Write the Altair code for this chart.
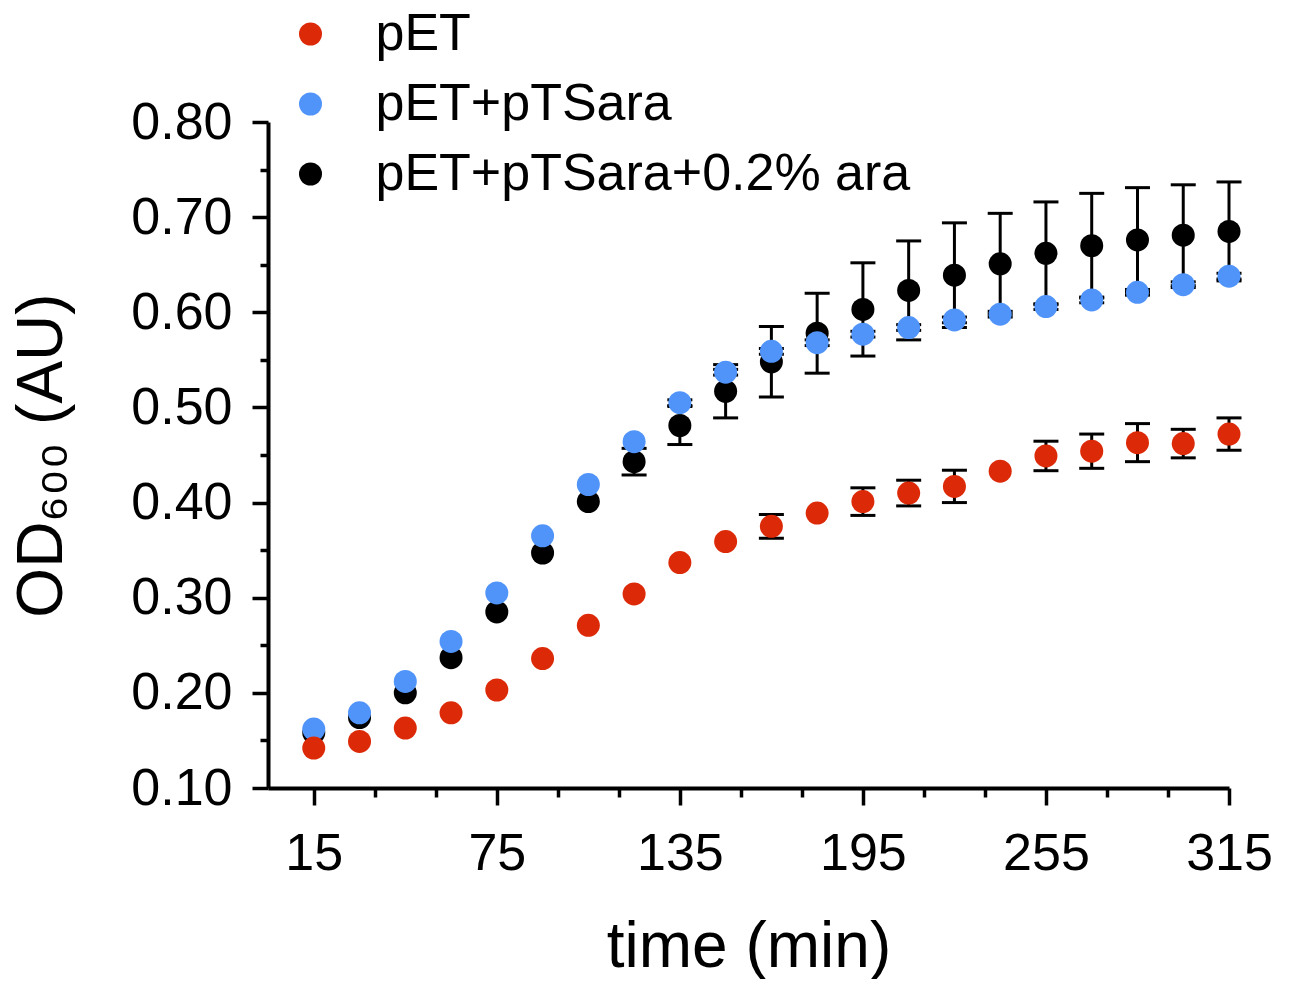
import altair as alt
import pandas as pd

# ---- data ----
time_min = [15, 30, 45, 60, 75, 90, 105, 120, 135, 150, 165, 180, 195, 210, 225, 240, 255, 270, 285, 300, 315]

series_names = ["pET", "pET+pTSara", "pET+pTSara+0.2% ara"]
series_colors = ["#dc2a08", "#5094fa", "#000000"]

od_pet = [0.142, 0.149, 0.163, 0.179, 0.203, 0.236, 0.271, 0.304, 0.337, 0.359, 0.375,
          0.389, 0.401, 0.410, 0.417, 0.433, 0.449, 0.454, 0.463, 0.462, 0.472]
# None = error bar too small to be seen behind the dot
err_pet = [None, None, None, None, None, None, None, None, None, None, 0.0125,
           None, 0.0145, 0.0135, 0.017, None, 0.0155, 0.018, 0.020, 0.015, 0.017]

od_pts = [0.162, 0.179, 0.212, 0.254, 0.305, 0.365, 0.419, 0.464, 0.505, 0.537, 0.559,
          0.568, 0.577, 0.584, 0.592, 0.598, 0.606, 0.613, 0.621, 0.629, 0.638]
err_pts = [None, None, None, None, None, None, None, None, 0.003, 0.003, 0.003,
           0.003, 0.003, 0.003, 0.003, 0.003, 0.003, 0.003, 0.003, 0.003, 0.003]

od_ara = [0.158, 0.174, 0.200, 0.237, 0.285, 0.347, 0.401, 0.443, 0.481, 0.517, 0.548,
          0.578, 0.603, 0.623, 0.639, 0.651, 0.662, 0.670, 0.676, 0.681, 0.685]
err_ara = [None, None, None, None, None, None, None, 0.014, 0.020, 0.028, 0.037,
           0.042, 0.049, 0.052, 0.055, 0.053, 0.054, 0.055, 0.055, 0.053, 0.052]

x_tick_values = [15, 35, 55, 75, 95, 115, 135, 155, 175, 195, 215, 235, 255, 275, 295, 315]
y_tick_values = [0.10, 0.15, 0.20, 0.25, 0.30, 0.35, 0.40, 0.45, 0.50, 0.55, 0.60,
                 0.65, 0.70, 0.75, 0.80]

# draw order: black, blue, red (red/blue on top)
rows = []
for name, od, err in [(series_names[2], od_ara, err_ara),
                      (series_names[1], od_pts, err_pts),
                      (series_names[0], od_pet, err_pet)]:
    for t, v, e in zip(time_min, od, err):
        rows.append({"time": t, "od": v, "err": e, "series": name})
df = pd.DataFrame(rows)

FONT = "Liberation Sans, Arial, Helvetica, sans-serif"

x_axis = alt.Axis(
    values=x_tick_values,
    labelExpr="(datum.value - 15) % 60 === 0 ? datum.label : ''",
    tickSize={"condition": {"test": "(datum.value - 15) % 60 === 0", "value": 17}, "value": 9},
    labelPadding=23, titlePadding=36, labelFlush=False, labelOverlap=False,
)
y_axis = alt.Axis(
    values=y_tick_values, format=".2f",
    labelExpr="round(datum.value * 100) % 10 === 0 ? datum.label : ''",
    tickSize={"condition": {"test": "round(datum.value * 100) % 10 === 0", "value": 16}, "value": 8},
    labelPadding=20, titlePadding=56, labelFlush=False, labelOverlap=False,
)
x_scale = alt.Scale(domain=[0, 315], nice=False, zero=False)
y_scale = alt.Scale(domain=[0.10, 0.80], nice=False, zero=False)

X_TITLE = "time (min)"
Y_TITLE = "OD₆₀₀ (AU)"

base = alt.Chart(df)
err_base = base.transform_filter("datum.err != null").transform_calculate(
    lo="datum.od - datum.err", hi="datum.od + datum.err"
)

err_line = err_base.mark_rule(color="black", strokeWidth=3).encode(
    x=alt.X("time:Q", scale=x_scale, axis=x_axis, title=X_TITLE),
    y=alt.Y("lo:Q", scale=y_scale, axis=y_axis, title=Y_TITLE),
    y2="hi:Q",
)
cap_hi = err_base.mark_tick(color="black", orient="horizontal", size=25, thickness=3, opacity=1).encode(
    x=alt.X("time:Q", scale=x_scale, axis=x_axis, title=X_TITLE),
    y=alt.Y("hi:Q", scale=y_scale, axis=y_axis, title=Y_TITLE),
)
cap_lo = err_base.mark_tick(color="black", orient="horizontal", size=25, thickness=3, opacity=1).encode(
    x=alt.X("time:Q", scale=x_scale, axis=x_axis, title=X_TITLE),
    y=alt.Y("lo:Q", scale=y_scale, axis=y_axis, title=Y_TITLE),
)
points = base.mark_point(filled=True, size=529, opacity=1, shape="circle", strokeWidth=0).encode(
    x=alt.X("time:Q", scale=x_scale, axis=x_axis, title=X_TITLE),
    y=alt.Y("od:Q", scale=y_scale, axis=y_axis, title=Y_TITLE),
    color=alt.Color(
        "series:N",
        scale=alt.Scale(domain=series_names, range=series_colors),
        sort=series_names,
        legend=alt.Legend(
            title=None, orient="none", legendX=16.5, legendY=-114,
            symbolSize=529, symbolType="circle", symbolStrokeWidth=0, symbolOpacity=1,
            labelFontSize=52, labelFont=FONT, labelColor="black",
            labelOffset=39, rowPadding=18, padding=0, labelLimit=900,
        ),
    ),
)

chart = alt.layer(err_line, cap_hi, cap_lo, points).properties(
    width=961, height=666,
    autosize=alt.AutoSizeParams(type="none"),
    padding={"left": 260, "top": 114, "right": 55, "bottom": 191},
).configure_view(stroke=None).configure_axis(
    grid=False,
    domainColor="black", domainWidth=4,
    tickColor="black", tickWidth=3.5,
    labelFont=FONT, labelFontSize=52, labelColor="black",
    titleFont=FONT, titleFontSize=64, titleFontWeight="normal", titleColor="black",
)

chart.save("out.html", embed_options={"renderer": "svg", "actions": False})
